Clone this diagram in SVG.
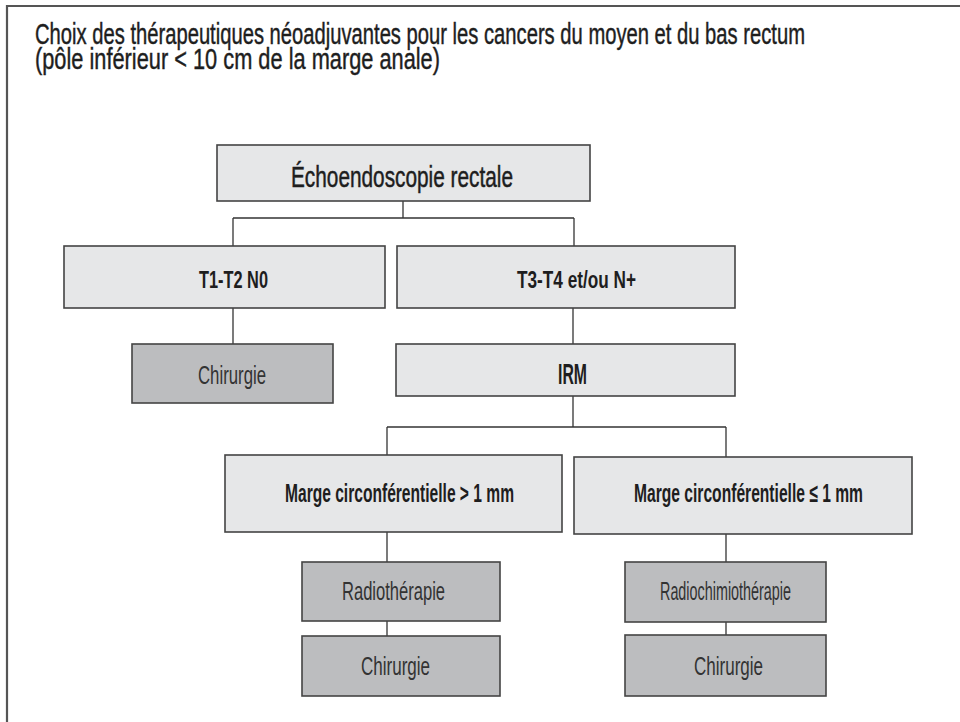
<svg xmlns="http://www.w3.org/2000/svg" width="960" height="722" viewBox="0 0 960 722">
<style>
.frame{fill:none;stroke:#555;stroke-width:2.2}
.light{fill:#e6e7e8;stroke:#444;stroke-width:1.6}
.dark{fill:#bcbdbf;stroke:#444;stroke-width:1.6}
.conn line{stroke:#333;stroke-width:1.3}
text{font-family:"Liberation Sans Narrow","Liberation Sans",Arial,sans-serif;fill:#1e1e1e}
.title{font-size:30px;stroke:#1e1e1e;stroke-width:0.45}
.hb{font-size:24px;font-weight:bold}
.hm{font-size:30px;stroke:#1e1e1e;stroke-width:0.5}
.reg{font-size:26px;fill:#333}
</style>
<rect width="960" height="722" fill="#fff"/>
<path class="frame" d="M7,722 V6 H960"/>
<g id="title">
<text class="title" x="35" y="44" textLength="770" lengthAdjust="spacingAndGlyphs">Choix des thérapeutiques néoadjuvantes pour les cancers du moyen et du bas rectum</text>
<text class="title" x="35" y="69" textLength="405" lengthAdjust="spacingAndGlyphs">(pôle inférieur &lt; 10 cm de la marge anale)</text>
</g>
<g class="conn" id="connectors">
<line x1="403" y1="201" x2="403" y2="218"/>
<line x1="233" y1="218" x2="574" y2="218"/>
<line x1="233" y1="218" x2="233" y2="246"/>
<line x1="574" y1="218" x2="574" y2="246"/>
<line x1="233" y1="308" x2="233" y2="344"/>
<line x1="573" y1="308" x2="573" y2="344"/>
<line x1="573" y1="396" x2="573" y2="427"/>
<line x1="387" y1="427" x2="726" y2="427"/>
<line x1="387" y1="427" x2="387" y2="455"/>
<line x1="726" y1="427" x2="726" y2="457"/>
<line x1="387" y1="532" x2="387" y2="562"/>
<line x1="387" y1="621" x2="387" y2="636"/>
<line x1="726" y1="534" x2="726" y2="562"/>
<line x1="726" y1="622" x2="726" y2="635"/>
</g>
<g id="echo">
<rect class="light" x="217" y="145" width="373" height="56"/>
<text class="hm" x="291" y="187" textLength="222" lengthAdjust="spacingAndGlyphs">Échoendoscopie rectale</text>
</g>
<g id="t1t2">
<rect class="light" x="64" y="246" width="321" height="62"/>
<text class="hb" x="199" y="288" textLength="69" lengthAdjust="spacingAndGlyphs">T1-T2 N0</text>
</g>
<g id="t3t4">
<rect class="light" x="397" y="246" width="338" height="62"/>
<text class="hb" x="517" y="288" textLength="119" lengthAdjust="spacingAndGlyphs">T3-T4 et/ou N+</text>
</g>
<g id="chir1">
<rect class="dark" x="132" y="344" width="201" height="59"/>
<text class="reg" x="198" y="384" textLength="68" lengthAdjust="spacingAndGlyphs">Chirurgie</text>
</g>
<g id="irm">
<rect class="light" x="396" y="344" width="339" height="52"/>
<text class="hb" style="font-size:29px" x="558" y="384" textLength="29" lengthAdjust="spacingAndGlyphs">IRM</text>
</g>
<g id="marge1">
<rect class="light" x="225" y="455" width="337" height="77"/>
<text class="hb" style="font-size:26px" x="285" y="502" textLength="229" lengthAdjust="spacingAndGlyphs">Marge circonférentielle &gt; 1 mm</text>
</g>
<g id="marge2">
<rect class="light" x="574" y="457" width="338" height="77"/>
<text class="hb" style="font-size:26px" x="634" y="502" textLength="229" lengthAdjust="spacingAndGlyphs">Marge circonférentielle ≤ 1 mm</text>
</g>
<g id="radio">
<rect class="dark" x="302" y="562" width="198" height="59"/>
<text class="reg" x="342" y="600" textLength="103" lengthAdjust="spacingAndGlyphs">Radiothérapie</text>
</g>
<g id="chir2">
<rect class="dark" x="302" y="636" width="198" height="60"/>
<text class="reg" x="361" y="675" textLength="69" lengthAdjust="spacingAndGlyphs">Chirurgie</text>
</g>
<g id="radiochimio">
<rect class="dark" x="625" y="562" width="201" height="60"/>
<text class="reg" x="660" y="600" textLength="131" lengthAdjust="spacingAndGlyphs">Radiochimiothérapie</text>
</g>
<g id="chir3">
<rect class="dark" x="625" y="635" width="201" height="61"/>
<text class="reg" x="694" y="675" textLength="69" lengthAdjust="spacingAndGlyphs">Chirurgie</text>
</g>
</svg>
